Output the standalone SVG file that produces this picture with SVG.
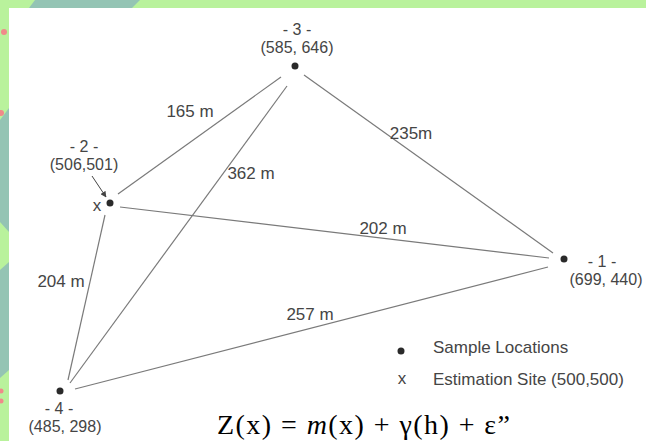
<svg xmlns="http://www.w3.org/2000/svg" width="646" height="441" viewBox="0 0 646 441">
<defs>
<style>
.lbl{font-family:"Liberation Sans",Arial,sans-serif;font-size:17px;fill:#454545}
.nl{font-family:"Liberation Sans",Arial,sans-serif;font-size:16px;fill:#454545}
.edge{stroke:#7a7a7a;stroke-width:1.2;fill:none}
.dot{fill:#2a2a2a}
.formula{font-family:"Liberation Serif","Times New Roman",serif;font-size:28px;fill:#000}
</style>
<marker id="ah" viewBox="0 0 10 10" refX="9" refY="5" markerWidth="6" markerHeight="6" orient="auto-start-reverse">
<path d="M0,0 L10,5 L0,10 z" fill="#444"/>
</marker>
</defs>
<rect x="0" y="0" width="646" height="441" fill="#b9f29c"/>
<polygon points="35,0 140,0 132,8 29,8" fill="#94c4b4"/>
<polygon points="0,120 9,108 9,232 0,222" fill="#94c4b4"/>
<polygon points="0,270 9,262 9,370 0,378" fill="#94c4b4"/>
<circle cx="4" cy="32" r="3" fill="#f08a8a"/>
<circle cx="1" cy="113" r="3" fill="#f08a8a"/>
<circle cx="1" cy="391" r="2.5" fill="#f08a8a"/>
<circle cx="1" cy="401" r="2.5" fill="#f08a8a"/>
<rect x="9" y="8" width="637" height="433" fill="#ffffff"/>
<g id="connectors">
<line class="edge" x1="118" y1="194" x2="281" y2="77"/>
<line class="edge" x1="70" y1="383" x2="287" y2="86"/>
<line class="edge" x1="304" y1="75" x2="553" y2="253"/>
<line class="edge" x1="120" y1="207" x2="549" y2="258"/>
<line class="edge" x1="68" y1="380" x2="105" y2="215"/>
<line class="edge" x1="75" y1="389" x2="548" y2="267"/>
<line x1="92" y1="176" x2="106" y2="197" stroke="#444" stroke-width="1" marker-end="url(#ah)"/>
<text class="lbl" x="190" y="117" text-anchor="middle">165 m</text>
<text class="lbl" x="251" y="179" text-anchor="middle">362 m</text>
<text class="lbl" x="411" y="139" text-anchor="middle">235m</text>
<text class="lbl" x="383" y="234" text-anchor="middle">202 m</text>
<text class="lbl" x="61" y="287" text-anchor="middle">204 m</text>
<text class="lbl" x="310" y="320" text-anchor="middle">257 m</text>
</g>
<g id="node3">
<circle class="dot" cx="295" cy="66" r="3.5"/>
<text class="nl" x="297" y="35" text-anchor="middle">- 3 -</text>
<text class="nl" x="297" y="53" text-anchor="middle">(585, 646)</text>
</g>
<g id="node2">
<circle class="dot" cx="110" cy="203" r="3.5"/>
<text class="lbl" x="97" y="211" text-anchor="middle">x</text>
<text class="nl" x="84" y="152" text-anchor="middle">- 2 -</text>
<text class="nl" x="84" y="170" text-anchor="middle">(506,501)</text>
</g>
<g id="node1">
<circle class="dot" cx="564" cy="259" r="3.5"/>
<text class="nl" x="602" y="267" text-anchor="middle">- 1 -</text>
<text class="nl" x="606" y="285" text-anchor="middle">(699, 440)</text>
</g>
<g id="node4">
<circle class="dot" cx="60" cy="391" r="3.5"/>
<text class="nl" x="59" y="414" text-anchor="middle">- 4 -</text>
<text class="nl" x="65" y="432" text-anchor="middle">(485, 298)</text>
</g>
<g id="legend">
<circle class="dot" cx="401" cy="351" r="3.5"/>
<text class="lbl" x="433" y="353">Sample Locations</text>
<text class="lbl" x="402" y="384" text-anchor="middle">x</text>
<text class="lbl" x="433" y="385">Estimation Site (500,500)</text>
</g>
<text class="formula" x="217" y="434" textLength="293" lengthAdjust="spacing">Z(x) = <tspan font-style="italic">m</tspan>(x) + γ(h) + ε”</text>
</svg>
